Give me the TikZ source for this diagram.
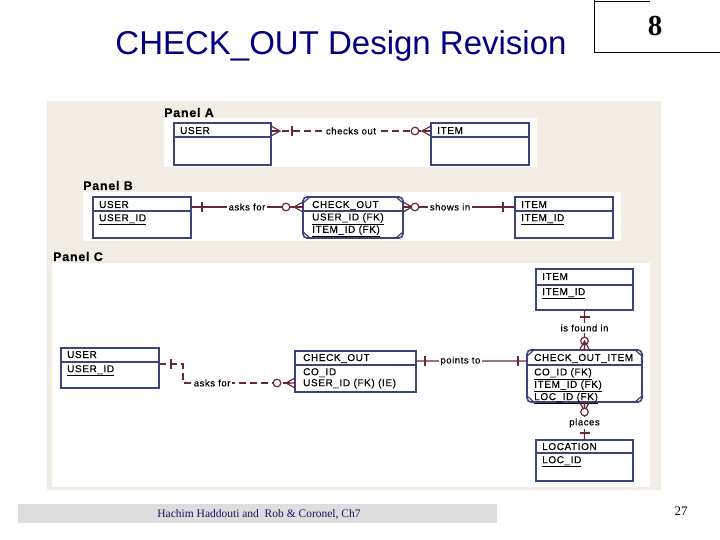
\documentclass[tikz,border=0pt]{standalone}
\usepackage{fontspec}
\setmainfont{Liberation Serif}
\setsansfont{Liberation Sans}
\newfontfamily\erfont[LetterSpace=6, FakeBold=0.4]{Liberation Sans}
\usepackage{xcolor}
\usepackage{tikz}
\usetikzlibrary{positioning, decorations.markings}
\definecolor{ttlnavy}{RGB}{0,0,128}
\definecolor{erbeige}{RGB}{242,237,228}
\definecolor{entline}{RGB}{58,68,125}
\definecolor{relline}{RGB}{105,40,55}
\definecolor{footgray}{RGB}{221,221,221}
\definecolor{footnavy}{RGB}{20,20,100}
\tikzset{
    entity/.style={draw=entline, line width=1.6bp, fill=white, anchor=north west, inner sep=0pt, outer sep=0pt},
    weak/.style={entity, rounded corners=4bp},
    esep/.style={draw=entline, line width=1.2bp},
    etitle/.style={anchor=base west, inner sep=0pt, font=\erfont\fontsize{10bp}{10bp}\selectfont},
    eattr/.style={anchor=north west, inner sep=0pt, align=left, font=\erfont\fontsize{10bp}{10bp}\selectfont},
    plabel/.style={anchor=base west, inner sep=0pt, font=\erfont\bfseries\fontsize{12.5bp}{12.5bp}\selectfont},
    rel/.style={draw=relline, line width=1.2bp},
    nonid/.style={rel, dash pattern=on 7bp off 4bp},
    rlabel/.style={fill=white, inner sep=1.5bp, font=\erfont\fontsize{9.5bp}{9.5bp}\selectfont},
    bar at/.style={postaction={decorate, decoration={markings, mark=at position #1 with {\draw[solid, relline, line width=1.4bp] (0,-5bp) -- (0,5bp);}}}},
    circ at/.style={postaction={decorate, decoration={markings, mark=at position #1 with {\draw[solid, relline, line width=1.2bp, fill=white] (0,0) circle (3.8bp);}}}},
    crow start/.style={postaction={decorate, decoration={markings, mark=at position 0 with {\draw[solid, relline, line width=1.2bp] (0,5bp) -- (9bp,0) -- (0,-5bp) (0,0) -- (9bp,0);}}}},
    crow end/.style={postaction={decorate, decoration={markings, mark=at position 1 with {\draw[solid, relline, line width=1.2bp] (0,5bp) -- (-9bp,0) -- (0,-5bp) (0,0) -- (-9bp,0);}}}}
}

\begin{document}
\begin{tikzpicture}[x=1bp, y=-1bp]
    \useasboundingbox (0,0) rectangle (720,540);
    \fill[white] (0,0) rectangle (720,540);

    % slide title and page box
    \node (title) [font=\sffamily\fontsize{33bp}{33bp}\selectfont, text=ttlnavy] at (341,46) {CHECK\_OUT Design Revision};
    \draw[line width=0.8bp] (594,1) -- (650,1);
    \draw[line width=0.8bp] (594,0) -- (594,52) -- (720,52);
    \node (chap) [font=\bfseries\fontsize{29bp}{29bp}\selectfont] at (655,26) {8};

    % ER figure
    \fill[erbeige] (47,101) rectangle (661,490);
    \fill[white] (164,118) rectangle (537,167);
    \fill[white] (83,192) rectangle (621,241);
    \fill[white] (52,263) rectangle (650,487);
    \node (panA) [plabel] at (164,117) {Panel A};
    \node (panB) [plabel] at (83,190) {Panel B};
    \node (panC) [plabel] at (53,261) {Panel C};

    % Panel A
    \node (userA) [entity, minimum width=97bp, minimum height=42bp] at (174,123) {};
    \node (itemA) [entity, minimum width=98bp, minimum height=42bp] at (431,123) {};
    \node (userAt) [etitle] at ([xshift=6bp, yshift=-11bp]userA.north west) {USER};
    \node (itemAt) [etitle] at ([xshift=6bp, yshift=-11bp]itemA.north west) {ITEM};

    % Panel B
    \node (userB) [entity, minimum width=98bp, minimum height=41bp] at (93,197) {};
    \node (coB) [weak, minimum width=100bp, minimum height=41bp] at (303,197) {};
    \node (itemB) [entity, minimum width=98bp, minimum height=41bp] at (515,197) {};
    \node (userBt) [etitle] at ([xshift=6bp, yshift=-11bp]userB.north west) {USER};
    \node (coBt) [etitle] at ([xshift=9bp, yshift=-11bp]coB.north west) {CHECK\_OUT};
    \node (itemBt) [etitle] at ([xshift=6bp, yshift=-11bp]itemB.north west) {ITEM};
    \node (userBk) [eattr] at ([xshift=6bp, yshift=-17bp]userB.north west) {\underline{USER\_ID}};
    \node (coBk) [eattr] at ([xshift=9bp, yshift=-16bp]coB.north west) {\underline{USER\_ID (FK)}\\\underline{ITEM\_ID (FK)}};
    \node (itemBk) [eattr] at ([xshift=6bp, yshift=-17bp]itemB.north west) {\underline{ITEM\_ID}};

    % Panel C
    \node (userC) [entity, minimum width=98bp, minimum height=40bp] at (61,348) {};
    \node (coC) [entity, minimum width=121bp, minimum height=41bp] at (295,351) {};
    \node (itemC) [entity, minimum width=97bp, minimum height=41bp] at (536,269) {};
    \node (coiC) [weak, minimum width=115bp, minimum height=52bp] at (527,350) {};
    \node (locC) [entity, minimum width=97bp, minimum height=41bp] at (536,440) {};
    \node (userCt) [etitle] at ([xshift=6bp, yshift=-10bp]userC.north west) {USER};
    \node (coCt) [etitle] at ([xshift=8bp, yshift=-10bp]coC.north west) {CHECK\_OUT};
    \node (itemCt) [etitle] at ([xshift=6bp, yshift=-11bp]itemC.north west) {ITEM};
    \node (coiCt) [etitle] at ([xshift=7bp, yshift=-11bp]coiC.north west) {CHECK\_OUT\_ITEM};
    \node (locCt) [etitle] at ([xshift=6bp, yshift=-10bp]locC.north west) {LOCATION};
    \node (userCk) [eattr] at ([xshift=6bp, yshift=-17bp]userC.north west) {\underline{USER\_ID}};
    \node (coCk) [eattr, font=\erfont\fontsize{10bp}{11bp}\selectfont] at ([xshift=8bp, yshift=-17bp]coC.north west) {CO\_ID\\USER\_ID (FK) (IE)};
    \node (itemCk) [eattr] at ([xshift=6bp, yshift=-19bp]itemC.north west) {\underline{ITEM\_ID}};
    \node (coiCk) [eattr] at ([xshift=7bp, yshift=-18bp]coiC.north west) {\underline{CO\_ID (FK)}\\\underline{ITEM\_ID (FK)}\\\underline{LOC\_ID (FK)}};
    \node (locCk) [eattr] at ([xshift=6bp, yshift=-16bp]locC.north west) {\underline{LOC\_ID}};

    % key lines
    \foreach \e/\s in {userA/14, itemA/14, userB/14, coB/14, itemB/14, userC/14, coC/14, itemC/16, coiC/15, locC/13}
        \draw[esep] ([yshift=-\s bp]\e.north west) -- ([yshift=-\s bp]\e.north east);
    % corner notches of dependent entities
    \foreach \e in {coB, coiC} {
        \draw[esep] ([xshift=7bp]\e.north west) -- ([yshift=-6bp]\e.north west);
        \draw[esep] ([xshift=-7bp]\e.north east) -- ([yshift=-6bp]\e.north east);
        \draw[esep] ([xshift=7bp]\e.south west) -- ([yshift=6bp]\e.south west);
        \draw[esep] ([xshift=-7bp]\e.south east) -- ([yshift=6bp]\e.south east);
    }

    % relationships
    \draw[nonid, crow start, bar at=21bp, circ at=-16bp, crow end] ([yshift=-8bp]userA.north east) -- node[rlabel] {checks out} ([yshift=-8bp]itemA.north west);
    \draw[rel, bar at=11bp, circ at=-17bp, crow end] ([yshift=-10bp]userB.north east) -- node[rlabel] {asks for} ([yshift=-10bp]coB.north west);
    \draw[rel, crow start, circ at=12bp, bar at=-12bp] ([yshift=-10bp]coB.north east) -- node[rlabel, pos=0.42] {shows in} ([yshift=-10bp]itemB.north west);
    \draw[nonid, bar at=12bp, circ at=-18bp, crow end] ([yshift=-16bp]userC.north east) -- ++(24,0) |- node[rlabel, pos=0.63] {asks for} ([yshift=-32bp]coC.north west);
    \draw[rel, bar at=9bp, bar at=-9bp] ([yshift=-10bp]coC.north east) -- node[rlabel, pos=0.4] {points to} ([yshift=-11bp]coiC.north west);
    \draw[rel, bar at=7bp, circ at=-9bp, crow end] (itemC.south) -- node[rlabel, pos=0.45] {is found in} (coiC.north);
    \draw[rel, crow start, circ at=10bp, bar at=-7bp] (coiC.south) -- node[rlabel, pos=0.55] {places} (locC.north);

    % footer
    \fill[footgray] (18,504) rectangle (497,523);
    \node (foot) [font=\fontsize{11.5bp}{11.5bp}\selectfont, text=footnavy] at (259,514) {Hachim Haddouti and\ \ Rob \& Coronel, Ch7};
    \node (pageno) [font=\fontsize{13bp}{13bp}\selectfont] at (681,511) {27};
\end{tikzpicture}
\end{document}
